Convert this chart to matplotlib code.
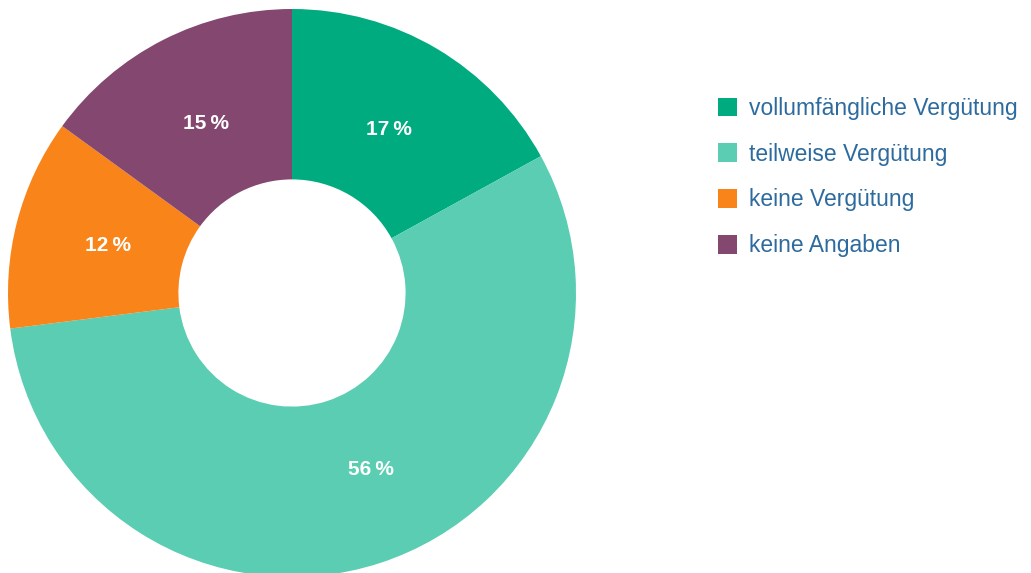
import numpy as np
import matplotlib.pyplot as plt
from matplotlib.patches import Patch

plt.rcParams['font.family'] = ['Liberation Sans', 'DejaVu Sans']

kategorien = ['vollumfängliche Vergütung', 'teilweise Vergütung', 'keine Vergütung', 'keine Angaben']
anteile = [17, 56, 12, 15]
farben = ['#00ab7f', '#5acdb2', '#f8841a', '#84476f']
textfarbe = '#2d6b9e'

fig = plt.figure(figsize=(10.31, 5.73), dpi=100)
# Achse so, dass der Ring bei x=292, y=293 (px) mit Radius 284 liegt
ax = fig.add_axes([8 / 1031, -4 / 573, 568 / 1031, 568 / 573])

wedges, texts, autotexts = ax.pie(
    anteile, colors=farben, startangle=90, counterclock=False,
    radius=1, wedgeprops=dict(width=0.6, linewidth=0),
    autopct=lambda p: f'{p:.0f}\u2009%', pctdistance=0.67,
    textprops=dict(color='white', fontsize=15, fontweight='bold'))

# Beschriftung im großen Segment liegt im Original etwas weiter rechts
w = wedges[1]
winkel = np.deg2rad((w.theta1 + w.theta2) / 2 + 6)
autotexts[1].set_position((0.68 * np.cos(winkel), 0.68 * np.sin(winkel)))

ax.set_xlim(-1, 1)
ax.set_ylim(-1, 1)
ax.set_aspect('equal')
ax.axis('off')

handles = [Patch(facecolor=c, edgecolor='none') for c in farben]
fig.legend(handles, kategorien, loc='upper left', bbox_to_anchor=(697 / 1031, 1 - 76 / 573),
           frameon=False, fontsize=16.5, labelcolor=textfarbe,
           handlelength=0.85, handleheight=0.85, handletextpad=0.5, labelspacing=1.0)

fig.savefig('out.png', dpi=100)
